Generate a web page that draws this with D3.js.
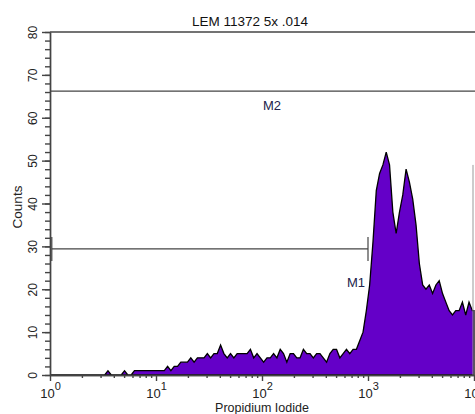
<!DOCTYPE html>
<html>
<head>
<meta charset="UTF-8"/>
<script src="https://d3js.org/d3.v7.min.js"></script>
<style>
    body { margin: 0; background: #fff; }
    svg { display: block; font-family: "Liberation Sans", Arial, sans-serif; }
    .hist { fill: #6400c8; stroke: #000; stroke-width: 1.3; stroke-linejoin: miter; }
    .axis path, .axis line { stroke: #444; stroke-width: 1.4; }
    .marker { stroke: #444; stroke-width: 1.2; fill: none; }
    .mlabel { fill: #22224a; font-size: 13px; }
</style>
</head>
<body>
<svg id="main" width="475" height="414"></svg>

<script>
    // PI histogram, 32 bins per decade from 10^0 to 10^4
    var binsPerDecade = 32
    var counts = [
        0, 0, 0, 0, 0, 0, 0, 0, 0, 0, 0, 0, 0, 0, 0, 0,
        0, 1, 0, 0, 0, 0, 1, 0, 0, 1, 1, 1, 1, 1, 1, 1,
        1, 1, 1, 2, 1, 2, 2, 3, 3, 3, 4, 3, 4, 4, 4, 5,
        4, 5, 5, 7, 5, 4, 5, 4, 5, 5, 5, 5, 6, 4, 5, 4,
        3, 4, 4, 5, 4, 6, 5, 3, 5, 5, 4, 4, 6, 5, 5, 4,
        5, 5, 4, 3, 5, 6, 6, 4, 5, 6, 5, 6, 6, 8, 10, 15,
        21, 31, 43, 47, 49, 52, 49, 38, 33, 38, 42, 48, 45, 41, 35, 26,
        21, 20, 21, 19, 21, 22, 19, 17, 15, 14, 15, 15, 17, 14, 17, 15
    ]
    // events piled up in the top channel
    var topChannel = 49

    var markers = [
        {name: 'M1', from: 1.04, to: 1000, level: 29.4},
        {name: 'M2', from: 1, to: 10000, level: 66.2}
    ]

    var title = 'LEM 11372  5x .014'
    var xTitle = 'Propidium Iodide'
    var yTitle = 'Counts'
    var yMajor = [0, 10, 20, 30, 40, 50, 60, 70, 80]
    var decades = [1, 10, 100, 1000, 10000]

    var svg = d3.select('#main')

    var x = d3.scaleLog().domain([1, 10000]).range([50, 474])
    var y = d3.scaleLinear().domain([0, 80]).range([375, 32])

    // histogram points at bin centres, last bin held to the scale end
    var pts = counts.map(function (c, i) {
        return {v: Math.pow(10, (i + 0.5) / binsPerDecade), c: c}
    })
    pts.unshift({v: 1, c: 0})
    pts.push({v: 10000, c: counts[counts.length - 1]})

    var area = d3.area()
        .x(function (d) { return x(d.v) })
        .y0(y(0))
        .y1(function (d) { return y(d.c) })

    svg.append('path')
        .datum(pts)
        .attr('class', 'hist')
        .attr('d', area)

    // top channel spike, one channel wide
    svg.append('line')
        .attr('x1', x(10000) - 1).attr('x2', x(10000) - 1)
        .attr('y1', y(0)).attr('y2', y(topChannel))
        .attr('stroke', '#999').attr('stroke-width', 1)

    // markers, with end bars where they fall inside the plot
    markers.forEach(function (m) {
        var g = svg.append('g')
        var yy = y(m.level)
        g.append('line').attr('class', 'marker')
            .attr('x1', x(m.from))
            .attr('x2', m.to >= 10000 ? 475 : x(m.to))
            .attr('y1', yy).attr('y2', yy)
        ;[m.from, m.to].forEach(function (v) {
            if (v <= 1 || v >= 10000) return
            g.append('line').attr('class', 'marker')
                .attr('x1', x(v)).attr('x2', x(v))
                .attr('y1', yy - 12).attr('y2', yy + 12)
        })
        if (m.name === 'M1') {
            g.append('text').attr('class', 'mlabel')
                .attr('x', x(m.to) - 3).attr('y', yy + 38)
                .attr('text-anchor', 'end').text(m.name)
        } else {
            g.append('text').attr('class', 'mlabel')
                .attr('x', x(Math.sqrt(m.from * m.to)) + 1).attr('y', yy + 19)
                .text(m.name)
        }
    })

    // frame top
    svg.append('line')
        .attr('x1', 50).attr('x2', 475)
        .attr('y1', y(80)).attr('y2', y(80))
        .attr('stroke', '#444').attr('stroke-width', 1.4)

    // y axis: minor every 2, major every 10
    svg.append('g').attr('class', 'axis')
        .attr('transform', 'translate(50,0)')
        .call(d3.axisLeft(y).tickValues(d3.range(0, 81, 2)).tickSize(5).tickSizeOuter(0).tickFormat(''))
    var yAx = svg.append('g').attr('class', 'axis')
        .attr('transform', 'translate(50,0)')
        .call(d3.axisLeft(y).tickValues(yMajor).tickSize(8).tickSizeOuter(0))
    yAx.selectAll('text')
        .attr('transform', 'rotate(-90)')
        .attr('x', 0).attr('y', -13).attr('dy', 0)
        .attr('text-anchor', 'middle')
        .attr('font-size', 12).attr('fill', '#222')

    // x axis: log minor ticks, labelled decades
    var minor = []
    decades.slice(0, 4).forEach(function (d) {
        for (var k = 2; k < 10; k++) minor.push(d * k)
    })
    svg.append('g').attr('class', 'axis')
        .attr('transform', 'translate(0,375)')
        .call(d3.axisBottom(x).tickValues(minor).tickSize(3).tickSizeOuter(0).tickFormat(''))
    var xAx = svg.append('g').attr('class', 'axis')
        .attr('transform', 'translate(0,375)')
        .call(d3.axisBottom(x).tickValues(decades).tickSize(6).tickSizeOuter(0).tickFormat(''))
    xAx.selectAll('.tick').append('text')
        .attr('y', 23).attr('x', 0)
        .attr('text-anchor', 'middle')
        .attr('fill', '#222').attr('font-size', 13)
        .each(function (d) {
            var t = d3.select(this)
            t.append('tspan').text('10')
            t.append('tspan').attr('dy', -8).attr('font-size', 11)
                .text(Math.round(Math.log10(d)))
        })

    // titles
    svg.append('text')
        .attr('x', 250).attr('y', 26)
        .attr('text-anchor', 'middle').attr('font-size', 13.5).attr('fill', '#111')
        .text(title)
    svg.append('text')
        .attr('x', 262).attr('y', 412)
        .attr('text-anchor', 'middle').attr('font-size', 12.5).attr('fill', '#222')
        .text(xTitle)
    svg.append('text')
        .attr('transform', 'translate(22,207) rotate(-90)')
        .attr('text-anchor', 'middle').attr('font-size', 13.5).attr('fill', '#222')
        .text(yTitle)
</script>
</body>
</html>
